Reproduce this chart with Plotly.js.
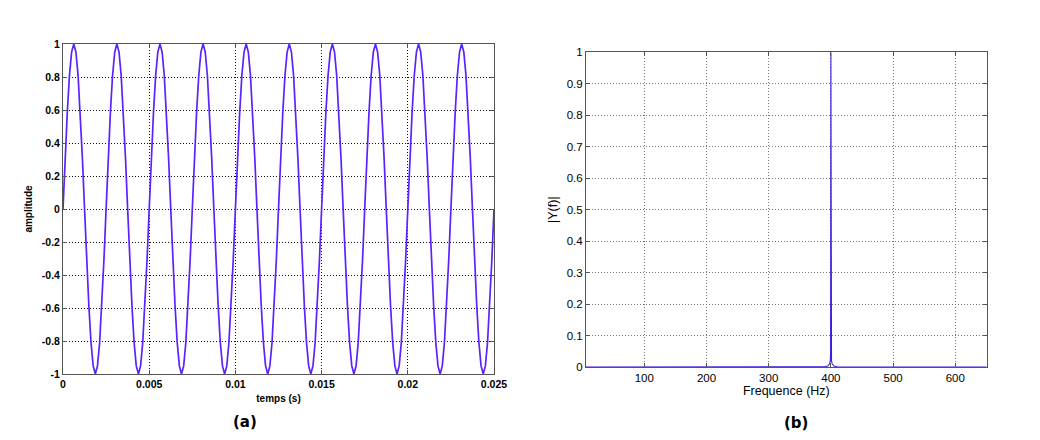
<!DOCTYPE html>
<html>
<head>
<meta charset="utf-8">
<script src="https://cdn.plot.ly/plotly-3.0.1.min.js"></script>
<style>html,body{margin:0;padding:0;background:#fff;}#chart{width:1040px;height:440px;}</style>
</head>
<body>
<div id="chart"></div>
<script>
// ---- panel (a): time signal ----
const timeSec = [
0, 0.000125, 0.00025, 0.000375, 0.0005, 0.000625, 0.00075, 0.000875, 0.001, 0.001125, 0.00125, 0.001375, 0.0015, 0.001625, 0.00175, 0.001875, 0.002, 0.002125, 0.00225, 0.002375,
0.0025, 0.002625, 0.00275, 0.002875, 0.003, 0.003125, 0.00325, 0.003375, 0.0035, 0.003625, 0.00375, 0.003875, 0.004, 0.004125, 0.00425, 0.004375, 0.0045, 0.004625, 0.00475, 0.004875,
0.005, 0.005125, 0.00525, 0.005375, 0.0055, 0.005625, 0.00575, 0.005875, 0.006, 0.006125, 0.00625, 0.006375, 0.0065, 0.006625, 0.00675, 0.006875, 0.007, 0.007125, 0.00725, 0.007375,
0.0075, 0.007625, 0.00775, 0.007875, 0.008, 0.008125, 0.00825, 0.008375, 0.0085, 0.008625, 0.00875, 0.008875, 0.009, 0.009125, 0.00925, 0.009375, 0.0095, 0.009625, 0.00975, 0.009875,
0.01, 0.010125, 0.01025, 0.010375, 0.0105, 0.010625, 0.01075, 0.010875, 0.011, 0.011125, 0.01125, 0.011375, 0.0115, 0.011625, 0.01175, 0.011875, 0.012, 0.012125, 0.01225, 0.012375,
0.0125, 0.012625, 0.01275, 0.012875, 0.013, 0.013125, 0.01325, 0.013375, 0.0135, 0.013625, 0.01375, 0.013875, 0.014, 0.014125, 0.01425, 0.014375, 0.0145, 0.014625, 0.01475, 0.014875,
0.015, 0.015125, 0.01525, 0.015375, 0.0155, 0.015625, 0.01575, 0.015875, 0.016, 0.016125, 0.01625, 0.016375, 0.0165, 0.016625, 0.01675, 0.016875, 0.017, 0.017125, 0.01725, 0.017375,
0.0175, 0.017625, 0.01775, 0.017875, 0.018, 0.018125, 0.01825, 0.018375, 0.0185, 0.018625, 0.01875, 0.018875, 0.019, 0.019125, 0.01925, 0.019375, 0.0195, 0.019625, 0.01975, 0.019875,
0.02, 0.020125, 0.02025, 0.020375, 0.0205, 0.020625, 0.02075, 0.020875, 0.021, 0.021125, 0.02125, 0.021375, 0.0215, 0.021625, 0.02175, 0.021875, 0.022, 0.022125, 0.02225, 0.022375,
0.0225, 0.022625, 0.02275, 0.022875, 0.023, 0.023125, 0.02325, 0.023375, 0.0235, 0.023625, 0.02375, 0.023875, 0.024, 0.024125, 0.02425, 0.024375, 0.0245, 0.024625, 0.02475, 0.024875,
0.025
];
const amplitude = [
0, 0.309, 0.588, 0.809, 0.951, 1, 0.951, 0.809, 0.588, 0.309, 0, -0.309, -0.588, -0.809, -0.951, -1, -0.951, -0.809, -0.588, -0.309,
0, 0.309, 0.588, 0.809, 0.951, 1, 0.951, 0.809, 0.588, 0.309, 0, -0.309, -0.588, -0.809, -0.951, -1, -0.951, -0.809, -0.588, -0.309,
0, 0.309, 0.588, 0.809, 0.951, 1, 0.951, 0.809, 0.588, 0.309, 0, -0.309, -0.588, -0.809, -0.951, -1, -0.951, -0.809, -0.588, -0.309,
0, 0.309, 0.588, 0.809, 0.951, 1, 0.951, 0.809, 0.588, 0.309, 0, -0.309, -0.588, -0.809, -0.951, -1, -0.951, -0.809, -0.588, -0.309,
0, 0.309, 0.588, 0.809, 0.951, 1, 0.951, 0.809, 0.588, 0.309, 0, -0.309, -0.588, -0.809, -0.951, -1, -0.951, -0.809, -0.588, -0.309,
0, 0.309, 0.588, 0.809, 0.951, 1, 0.951, 0.809, 0.588, 0.309, 0, -0.309, -0.588, -0.809, -0.951, -1, -0.951, -0.809, -0.588, -0.309,
0, 0.309, 0.588, 0.809, 0.951, 1, 0.951, 0.809, 0.588, 0.309, 0, -0.309, -0.588, -0.809, -0.951, -1, -0.951, -0.809, -0.588, -0.309,
0, 0.309, 0.588, 0.809, 0.951, 1, 0.951, 0.809, 0.588, 0.309, 0, -0.309, -0.588, -0.809, -0.951, -1, -0.951, -0.809, -0.588, -0.309,
0, 0.309, 0.588, 0.809, 0.951, 1, 0.951, 0.809, 0.588, 0.309, 0, -0.309, -0.588, -0.809, -0.951, -1, -0.951, -0.809, -0.588, -0.309,
0, 0.309, 0.588, 0.809, 0.951, 1, 0.951, 0.809, 0.588, 0.309, 0, -0.309, -0.588, -0.809, -0.951, -1, -0.951, -0.809, -0.588, -0.309,
0
];
const timeTicks = [0, 0.005, 0.01, 0.015, 0.02, 0.025];
const timeTickLabels = ["0", "0.005", "0.01", "0.015", "0.02", "0.025"];
const ampTicks = [-1, -0.8, -0.6, -0.4, -0.2, 0, 0.2, 0.4, 0.6, 0.8, 1];
const ampTickLabels = ["-1", "-0.8", "-0.6", "-0.4", "-0.2", "0", "0.2", "0.4", "0.6", "0.8", "1"];

// ---- panel (b): spectrum ----
const freqHz = [6.25, 380, 390, 395, 397, 398, 399, 399.5, 400, 400.5, 401, 402, 403, 405, 410, 420, 650];
const magnitude = [0, 0, 0.001, 0.003, 0.006, 0.01, 0.02, 0.045, 1.0, 0.045, 0.02, 0.01, 0.006, 0.003, 0.001, 0, 0];
const freqTicks = [100, 200, 300, 400, 500, 600];
const magTicks = [0, 0.1, 0.2, 0.3, 0.4, 0.5, 0.6, 0.7, 0.8, 0.9, 1];
const magTickLabels = ["0", "0.1", "0.2", "0.3", "0.4", "0.5", "0.6", "0.7", "0.8", "0.9", "1"];

const boldFont = {family: "Liberation Sans, Arial, sans-serif", size: 10.5, color: "#000", weight: "bold"};
const titleBold = {family: "Liberation Sans, Arial, sans-serif", size: 10, color: "#000", weight: "bold"};
const regFont = {family: "Liberation Sans, Arial, sans-serif", size: 11.5, color: "#000"};
const regTitle = {family: "Liberation Sans, Arial, sans-serif", size: 12.5, color: "#000"};

const traces = [
  {x: timeSec, y: amplitude, type: "scatter", mode: "lines", xaxis: "x", yaxis: "y",
   line: {color: "#5a22ff", width: 1.7}, hoverinfo: "skip"},
  {x: freqHz, y: magnitude, type: "scatter", mode: "lines", xaxis: "x2", yaxis: "y2",
   line: {color: "#3a1ee0", width: 1.1}, hoverinfo: "skip"}
];

const commonAxis = {
  showline: true, mirror: "ticks", linecolor: "#555", linewidth: 1,
  ticks: "inside", ticklen: 4, tickcolor: "#555",
  showgrid: true, griddash: "1px,2px", gridwidth: 1,
  zeroline: false, fixedrange: true
};

const layout = {
  width: 1040, height: 440,
  margin: {l: 0, r: 0, t: 0, b: 0},
  paper_bgcolor: "#fff", plot_bgcolor: "#fff",
  showlegend: false,
  xaxis: Object.assign({}, commonAxis, {
    domain: [63/1040, 494/1040], anchor: "y",
    range: [0, 0.025], tickvals: timeTicks, ticktext: timeTickLabels,
    gridcolor: "#111", tickfont: boldFont,
    title: {text: "temps (s)", font: titleBold, standoff: 6}
  }),
  yaxis: Object.assign({}, commonAxis, {
    domain: [1 - 374/440, 1 - 44/440], anchor: "x",
    range: [-1, 1], tickvals: ampTicks, ticktext: ampTickLabels,
    gridcolor: "#111", tickfont: boldFont,
    title: {text: "amplitude", font: titleBold, standoff: 7}
  }),
  xaxis2: Object.assign({}, commonAxis, {
    domain: [586/1040, 986.7/1040], anchor: "y2",
    range: [6.25, 650.5], tickvals: freqTicks,
    gridcolor: "#777", tickfont: regFont,
    title: {text: "Frequence (Hz)", font: regTitle, standoff: 3}
  }),
  yaxis2: Object.assign({}, commonAxis, {
    domain: [1 - 367/440, 1 - 52.3/440], anchor: "x2",
    range: [0, 1], tickvals: magTicks, ticktext: magTickLabels,
    gridcolor: "#777", tickfont: regFont,
    title: {text: "|Y(f)|", font: regTitle, standoff: 6}
  }),
  annotations: [
    {text: "(a)", xref: "paper", yref: "paper", x: 245/1040, y: 1 - 422/440,
     showarrow: false, xanchor: "center", yanchor: "middle",
     font: {family: "DejaVu Sans, sans-serif", size: 15, weight: "bold", color: "#000"}},
    {text: "(b)", xref: "paper", yref: "paper", x: 796/1040, y: 1 - 423/440,
     showarrow: false, xanchor: "center", yanchor: "middle",
     font: {family: "DejaVu Sans, sans-serif", size: 15, weight: "bold", color: "#000"}}
  ]
};

Plotly.newPlot("chart", traces, layout, {staticPlot: true, displayModeBar: false});
</script>
</body>
</html>
